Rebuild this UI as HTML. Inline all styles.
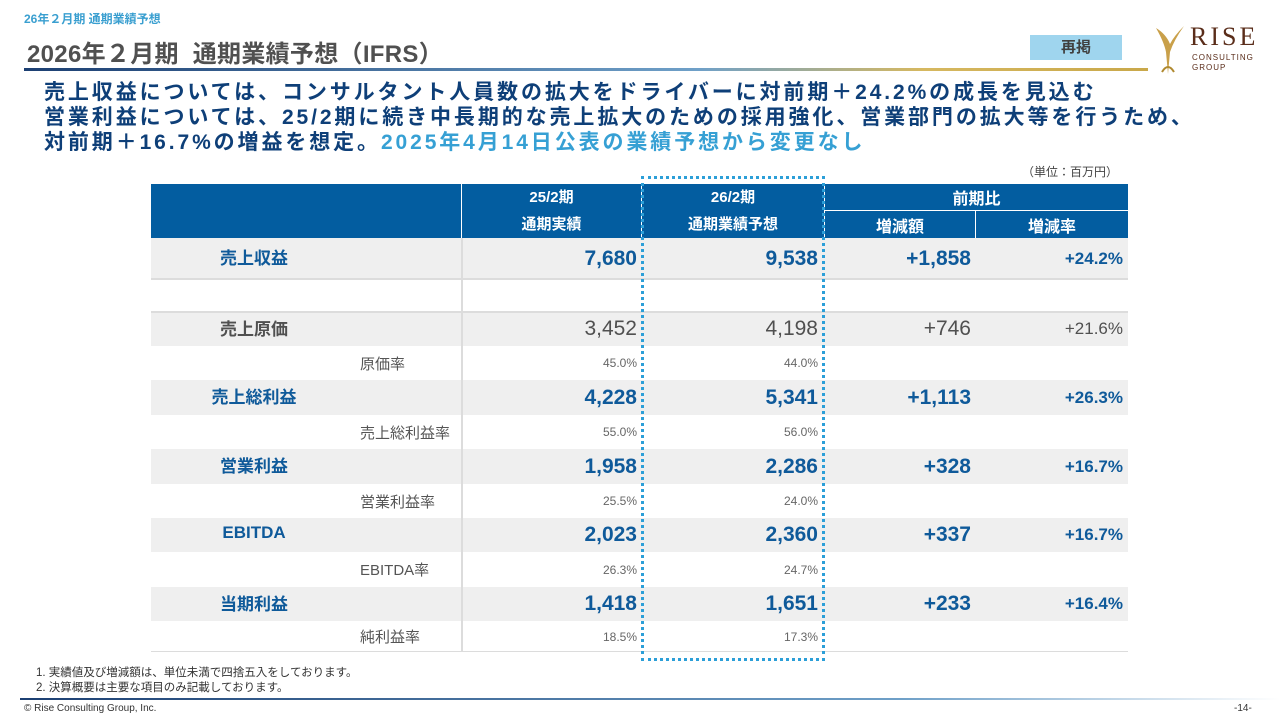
<!DOCTYPE html>
<html><head><meta charset="utf-8">
<style>
*{margin:0;padding:0;box-sizing:border-box}
body{width:1280px;height:720px;background:#fff;position:relative;overflow:hidden;font-family:"Liberation Sans","Noto Sans CJK JP",sans-serif}
.a{position:absolute;white-space:nowrap}
.cell{position:absolute;display:flex;align-items:center}
.hd{background:#035da0;color:#fff;font-weight:bold;font-size:16px;justify-content:center}
</style></head><body>
<div class="a" style="left:24px;top:10px;font-size:12px;font-weight:bold;color:#3a9fd0">26年２月期 通期業績予想</div>
<div class="a" style="left:27px;top:34px;font-size:24px;font-weight:bold;color:#505050;letter-spacing:0.3px">2026年２月期&nbsp; 通期業績予想（IFRS）</div>
<div class="a" style="left:24px;top:68px;width:1124px;height:3px;background:linear-gradient(90deg,#1c3f72,#6fa0c8 60%,#d6b860 80%,#c9a84a)"></div>
<div class="a" style="left:1030px;top:35px;width:92px;height:25px;background:#9fd5ee;color:#404040;font-size:15px;font-weight:bold;text-align:center;line-height:25px">再掲</div>
<div class="a" style="left:1148px;top:22px;width:110px;height:56px">
<svg width="40" height="56" viewBox="0 0 40 56"><path d="M8 6 Q16 20 18 30 L20 52 L22 30 Q26 18 36 4 Q26 14 22 22 Q18 12 8 6Z" fill="#c9a04a"/><path d="M14 50 Q20 40 26 50" stroke="#b08a30" fill="none" stroke-width="2"/></svg>
<div class="a" style="left:42px;top:0;font-family:'Liberation Serif',serif;font-size:26px;color:#5a2d1a;letter-spacing:3px">RISE</div>
<div class="a" style="left:44px;top:31px;font-size:8px;color:#5a2d1a;letter-spacing:1px;line-height:10px">CONSULTING<br>GROUP</div>
</div>
<div class="a" style="left:44px;top:80px;font-size:21px;font-weight:bold;line-height:25px;color:#0e3f78;letter-spacing:2.9px">売上収益については、コンサルタント人員数の拡大をドライバーに対前期＋24.2%の成長を見込む<br>営業利益については、25/2期に続き中長期的な売上拡大のための採用強化、営業部門の拡大等を行うため、<br>対前期＋16.7%の増益を想定。<span style="color:#36a0d4">2025年4月14日公表の業績予想から変更なし</span></div>
<div class="a" style="left:1022px;top:163px;font-size:12px;color:#444">（単位：百万円）</div>

<div id="tbl"></div>

<div class="a" style="left:641px;top:176px;width:184px;height:485px;border:3px dotted #2c9fd8"></div>

<div class="a" style="left:36px;top:666px;font-size:11.5px;color:#333;line-height:15px">1. 実績値及び増減額は、単位未満で四捨五入をしております。<br>2. 決算概要は主要な項目のみ記載しております。</div>
<div class="a" style="left:20px;top:698px;width:1260px;height:2px;background:linear-gradient(90deg,#1c3f72,#6fa0c8 70%,#fff)"></div>
<div class="a" style="left:24px;top:703px;font-size:10px;color:#333">© Rise Consulting Group, Inc.</div>
<div class="a" style="left:1234px;top:703px;font-size:10px;color:#333">-14-</div>

<script>
const rowLabels=['売上収益','','売上原価','原価率','売上総利益','売上総利益率','営業利益','営業利益率','EBITDA','EBITDA率','当期利益','純利益率'];
const rowTypes=['main','blank','cost','sub','main','sub','main','sub','main','sub','main','sub'];
const actual=['7,680','','3,452','45.0%','4,228','55.0%','1,958','25.5%','2,023','26.3%','1,418','18.5%'];
const forecast=['9,538','','4,198','44.0%','5,341','56.0%','2,286','24.0%','2,360','24.7%','1,651','17.3%'];
const diffAmt=['+1,858','','+746','','+1,113','','+328','','+337','','+233',''];
const diffRate=['+24.2%','','+21.6%','','+26.3%','','+16.7%','','+16.7%','','+16.4%',''];
const rowTops=[238,279,312,346,380,415,449,484,518,552,587,621,652];
const t=document.getElementById('tbl');
function mk(x,y,w,h,txt,style,name){const d=document.createElement('div');d.className='cell';
d.style.cssText=`left:${x}px;top:${y}px;width:${w}px;height:${h}px;`+style;d.textContent=txt;


t.appendChild(d);return d;}
mk(151,184,310,54,'','background:#035da0','header-blank');
const hs='background:#035da0;justify-content:center;text-align:center;color:#fff;font-weight:bold;font-size:15px;line-height:27px;';
const h1=mk(462,184,179,54,'',hs,'header-actual');h1.innerHTML='<span>25/2期<br>通期実績</span>';
const h2=mk(642,184,182,54,'',hs,'header-forecast');h2.innerHTML='<span>26/2期<br>通期業績予想</span>';
mk(825,184,303,26,'前期比','','header-yoy').classList.add('hd');
mk(825,211,150,27,'増減額','','header-diff-amount').classList.add('hd');
mk(976,211,152,27,'増減率','','header-diff-rate').classList.add('hd');
for(let i=0;i<rowLabels.length;i++){
 const y=rowTops[i],h=rowTops[i+1]-y,tp=rowTypes[i];
 const gray=(tp==='main'||tp==='cost');
 const bg=gray?'background:#efefef;':'';
 const col=tp==='main'?'#0f5a9a':'#505050';
 const big=gray?`font-size:21px;font-weight:${tp==='main'?'bold':'normal'};color:${col};`:'font-size:12px;color:#666;';
 mk(151,y,310,h,'',bg,'row-bg-'+i);
 mk(462,y,366,h,'',bg,'row-bg-values-'+i);
 mk(825,y,303,h,'',bg,'row-bg-yoy-'+i);
 if(tp==='sub') mk(360,y,100,h,rowLabels[i],'font-size:15px;color:#555','row-label-'+i);
 else if(rowLabels[i]) mk(151,y-2,206,h,rowLabels[i],`justify-content:center;font-size:17px;font-weight:bold;color:${tp==='main'?'#0f5a9a':'#505050'}`,'row-label-'+i);
 mk(462,y,175,h,actual[i],'justify-content:flex-end;'+big,'actual-'+i);
 mk(642,y,176,h,forecast[i],'justify-content:flex-end;'+big,'forecast-'+i);
 mk(825,y,146,h,diffAmt[i],'justify-content:flex-end;'+big,'diff-amount-'+i);
 mk(976,y,147,h,diffRate[i],`justify-content:flex-end;font-size:17px;color:${col};font-weight:${tp==='main'?'bold':'normal'}`,'diff-rate-'+i);
}
mk(461,238,2,414,'','background:#dcdcdc','label-divider');
mk(151,278,977,2,'','background:#dcdcdc','divider-1');
mk(151,311,977,2,'','background:#dcdcdc','divider-2');
mk(151,651,977,1,'','background:#dcdcdc','divider-bottom');
</script>
</body></html>
